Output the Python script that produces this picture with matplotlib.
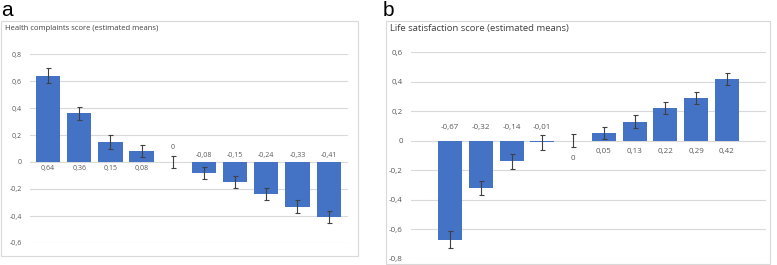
import matplotlib.pyplot as plt
from matplotlib.patches import Rectangle
from matplotlib.ticker import FuncFormatter

# Panel a: health complaints (estimated means), index 4 is the reference group
health_means = [0.64, 0.36, 0.15, 0.08, 0.0, -0.08, -0.15, -0.24, -0.33, -0.41]
health_err = [0.055, 0.05, 0.05, 0.045, 0.045, 0.045, 0.045, 0.045, 0.045, 0.045]
# Panel b: life satisfaction (estimated means)
life_means = [-0.67, -0.32, -0.14, -0.01, 0.0, 0.05, 0.13, 0.22, 0.29, 0.42]
life_err = [0.06, 0.05, 0.05, 0.05, 0.045, 0.04, 0.045, 0.04, 0.04, 0.04]
ref_index = 4

health_ticks = [0.8, 0.6, 0.4, 0.2, 0, -0.2, -0.4, -0.6]
life_ticks = [0.6, 0.4, 0.2, 0, -0.2, -0.4, -0.6, -0.8]

plt.rcParams['font.family'] = ['Open Sans', 'DejaVu Sans']
BLUE = '#4472C4'
GRID = '#d9d9d9'
TXT = '#595959'

W, H = 777, 265
fig = plt.figure(figsize=(W / 100, H / 100), dpi=100)


def px_box(x0, y0, x1, y1):
    # pixel box (top-left origin) -> figure fraction rect
    return [x0 / W, 1 - y1 / H, (x1 - x0) / W, (y1 - y0) / H]


def comma(v, pos=None):
    if abs(v) < 1e-9:
        return '0'
    return f'{v:.1f}'.replace('.', ',')


def lab(v):
    if abs(v) < 1e-9:
        return '0'
    return f'{v:.2f}'.replace('.', ',')


def draw_panel(rect, frame, means, errs, ticks, xlim, fs, off_pos, off_neg, off_ref, title, letter, letter_x, title_fs):
    # frame around the chart
    fx = px_box(*frame)
    fig.patches.append(Rectangle((fx[0], fx[1]), fx[2], fx[3], transform=fig.transFigure,
                                 fill=False, edgecolor=GRID, lw=0.8))
    fig.text(fx[0] + 4 / W, 1 - 29 / H, title, fontsize=title_fs, color='#404040', va='center', ha='left')
    fig.text(letter_x / W, 1 - 10 / H, letter, fontsize=15, color='black', va='center', ha='left',
             family='Liberation Sans')

    ax = fig.add_axes(px_box(*rect))
    x = list(range(len(means)))
    heights = [0 if i == ref_index else m for i, m in enumerate(means)]
    ax.bar(x, heights, width=0.78, color=BLUE, zorder=3)
    ax.errorbar(x, means, yerr=errs, fmt='none', ecolor='#404040', elinewidth=0.8,
                capsize=1.8, capthick=0.8, zorder=4)
    for i, m in enumerate(means):
        if i == ref_index:
            y = off_ref
        elif m > 0:
            y = off_pos
        else:
            y = off_neg
        ax.text(i, y, lab(m), ha='center', va='center', fontsize=fs, color=TXT)
    ax.set_ylim(min(ticks), max(ticks))
    ax.set_xlim(*xlim)
    ax.set_yticks(ticks)
    ax.yaxis.set_major_formatter(FuncFormatter(comma))
    ax.set_xticks([])
    ax.grid(axis='y', color=GRID, lw=0.8, zorder=0)
    ax.tick_params(axis='y', length=0, labelsize=fs, labelcolor=TXT, pad=6)
    for s in ax.spines.values():
        s.set_visible(False)
    return ax


draw_panel((30, 54, 348, 243), (1, 21, 358, 256), health_means, health_err, health_ticks,
           (-0.58, 9.62), 5.0, -0.045, 0.05, 0.11,
           'Health complaints score (estimated means)', 'a', 1, 5.5)
draw_panel((411, 52.3, 766, 258.7), (386, 21, 770, 264), life_means, life_err, life_ticks,
           (-1.27, 10.27), 5.8, -0.075, 0.09, -0.12,
           'Life satisfaction score (estimated means)', 'b', 383, 6.8)

fig.savefig('out.png', dpi=100)
